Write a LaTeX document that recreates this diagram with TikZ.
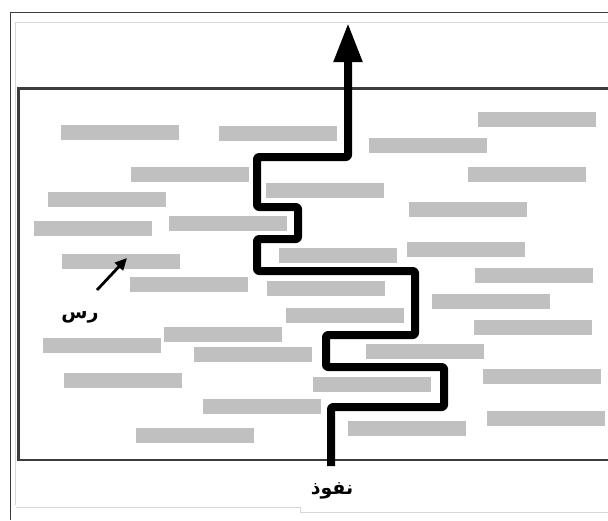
\documentclass[tikz,border=0pt]{standalone}
\usepackage{fontspec}
\usetikzlibrary{arrows.meta}
\TeXXeTstate=1
\newfontfamily\arabicfont[Script=Arabic]{DejaVu Sans}
\definecolor{bargray}{RGB}{192,192,192}
\definecolor{framegray}{RGB}{60,60,60}
\definecolor{faintgray}{RGB}{215,215,215}
\tikzset{
  bar/.style={fill=bargray, draw=none},
  flowpath/.style={line width=8pt, line join=round, rounded corners=2pt,
    -{Triangle[length=39pt,width=27pt]}},
  pointer/.style={line width=2.8pt, -{Triangle[length=12pt,width=11pt]}},
  arlabel/.style={font=\arabicfont\bfseries\fontsize{19}{22}\selectfont, inner sep=0pt},
}
\begin{document}
\begin{tikzpicture}[x=1pt, y=-1pt]
\useasboundingbox (0,0) rectangle (608,520);
% outer frame and faint scan edges
\draw[framegray, line width=1pt] (10.5,520) -- (10.5,12.5) -- (608,12.5);
\draw[faintgray, line width=0.8pt] (15.5,505) -- (15.5,22.5) -- (608,22.5);
\draw[faintgray, line width=0.8pt] (15.5,507) -- (300,507) -- (300,512) -- (608,512);
% clay layer
\draw[framegray, line width=2.4pt] (608,88.5) -- (18.5,88.5) -- (18.5,460) -- (608,460);
% clay platelets
\foreach \x/\y in {61/125, 219/126, 478/112, 369/138, 131/167, 468/167, 266/183,
  48/192, 409/202, 169/216, 34/221, 407/242, 279/248, 62/254, 475/268, 130/277,
  267/281, 432/294, 286/308, 474/320, 164/327, 43/338, 366/344, 194/347, 483/369,
  64/373, 313/377, 203/399, 487/411, 348/421, 136/428}
  \fill[bar] (\x,\y) rectangle ++(118,15);
% labels
\node[arlabel] (flux) at (332,491) {\beginR نفوذ\endR};
\node[arlabel] (clay) at (80,317) {\beginR رس\endR};
\coordinate (pin) at (331,466);
\coordinate (pout) at (348,23);
\coordinate (ptail) at (97,290);
\coordinate (ptip) at (127,258);
% tortuous diffusion path
\draw[flowpath] (pin) -- (331,407) -- (444,407) -- (444,367) -- (326,367)
  -- (326,335) -- (415,335) -- (415,271) -- (257,271) -- (257,239)
  -- (298,239) -- (298,207) -- (257,207) -- (257,157) -- (348,157) -- (pout);
\draw[pointer] (ptail) -- (ptip);
\end{tikzpicture}
\end{document}
